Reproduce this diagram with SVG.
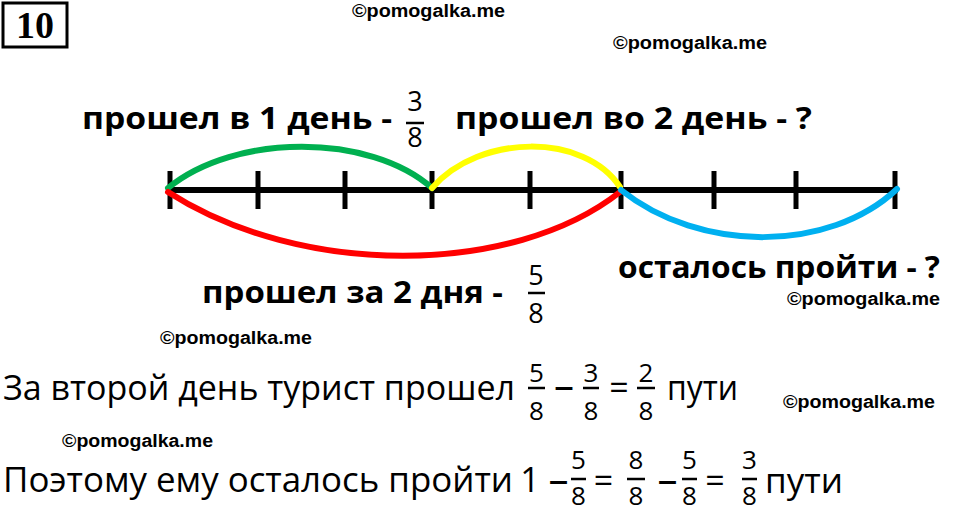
<svg xmlns="http://www.w3.org/2000/svg" width="960" height="516" viewBox="0 0 960 516">
<style>
.wm{font-family:"Liberation Sans",Arial,sans-serif;font-weight:bold;font-size:18px;fill:#000}
.lbl{font-family:"Open Sans","Noto Sans",sans-serif;font-weight:bold;font-size:30px;fill:#000}
.fr{font-family:"Open Sans","Noto Sans",sans-serif;font-size:27px;fill:#000;text-anchor:middle}
.fr2{font-family:"Open Sans","Noto Sans",sans-serif;font-size:26px;fill:#000;text-anchor:middle}
.main{font-family:"Open Sans","Noto Sans",sans-serif;font-size:34px;fill:#000}
.op{font-family:"Open Sans","Noto Sans",sans-serif;font-size:34px;fill:#000;text-anchor:middle}
.dash{font-family:"Open Sans","Noto Sans",sans-serif;font-size:40px;fill:#000;text-anchor:middle}
.bar{stroke:#000;stroke-width:2.5}
.tick{stroke:#000;stroke-width:5}
.arc{fill:none;stroke-width:6;stroke-linecap:round}
</style>
<rect width="960" height="516" fill="#fff"/>
<g id="number-box">
<rect x="3" y="3" width="64" height="44" fill="#fff" stroke="#000" stroke-width="3"/>
<text x="35" y="38" font-family="Liberation Serif,serif" font-weight="bold" font-size="38" text-anchor="middle">10</text>
</g>
<g id="watermarks">
<text class="wm" x="352" y="17" textLength="153" lengthAdjust="spacingAndGlyphs">©pomogalka.me</text>
<text class="wm" x="613" y="49" textLength="154" lengthAdjust="spacingAndGlyphs">©pomogalka.me</text>
<text class="wm" x="787" y="305" textLength="153" lengthAdjust="spacingAndGlyphs">©pomogalka.me</text>
<text class="wm" x="160" y="344" textLength="152" lengthAdjust="spacingAndGlyphs">©pomogalka.me</text>
<text class="wm" x="783" y="408" textLength="152" lengthAdjust="spacingAndGlyphs">©pomogalka.me</text>
<text class="wm" x="62" y="447" textLength="151" lengthAdjust="spacingAndGlyphs">©pomogalka.me</text>
</g>
<g id="number-line">
<line x1="166" y1="190" x2="898" y2="190" stroke="#000" stroke-width="6"/>
<line class="tick" x1="170" y1="171" x2="170" y2="209"/>
<line class="tick" x1="258" y1="171" x2="258" y2="209"/>
<line class="tick" x1="345" y1="171" x2="345" y2="209"/>
<line class="tick" x1="432" y1="171" x2="432" y2="209"/>
<line class="tick" x1="530" y1="171" x2="530" y2="209"/>
<line class="tick" x1="621" y1="171" x2="621" y2="209"/>
<line class="tick" x1="714" y1="171" x2="714" y2="209"/>
<line class="tick" x1="796" y1="171" x2="796" y2="209"/>
<line class="tick" x1="895" y1="171" x2="895" y2="209"/>
</g>
<g id="connectors">
<path class="arc" stroke="#00B050" d="M168,188 C235,133 370,133 432,188"/>
<path class="arc" stroke="#FFFF00" d="M432,188 C480,133 585,133 620,187"/>
<path class="arc" stroke="#FF0000" d="M168,192 C300,277 512,277 620,192"/>
<path class="arc" stroke="#00B0F0" d="M621,190 C700,253 829,253 897,189"/>
</g>
<g id="label-day1">
<text class="lbl" x="82" y="129" textLength="310" lengthAdjust="spacingAndGlyphs">прошел в 1 день -</text>
<text class="fr" x="415" y="111">3</text>
<line class="bar" x1="406" y1="123" x2="424" y2="123"/>
<text class="fr" x="415" y="147">8</text>
</g>
<g id="label-day2">
<text class="lbl" x="455" y="129" textLength="357" lengthAdjust="spacingAndGlyphs">прошел во 2 день - ?</text>
</g>
<g id="label-two-days">
<text class="lbl" x="202" y="303" textLength="301" lengthAdjust="spacingAndGlyphs">прошел за 2 дня -</text>
<text class="fr" x="536" y="285">5</text>
<line class="bar" x1="528" y1="293" x2="545" y2="293"/>
<text class="fr" x="536" y="323">8</text>
</g>
<g id="label-remaining">
<text class="lbl" x="618" y="278" textLength="322" lengthAdjust="spacingAndGlyphs">осталось пройти - ?</text>
</g>
<g id="equation-1">
<text class="main" x="3" y="400" textLength="512" lengthAdjust="spacingAndGlyphs">За второй день турист прошел</text>
<text class="fr2" x="536.5" y="382">5</text>
<line class="bar" x1="528" y1="388" x2="545" y2="388"/>
<text class="fr2" x="536.5" y="420">8</text>
<text class="dash" x="564" y="399">–</text>
<text class="fr2" x="591" y="382">3</text>
<line class="bar" x1="583" y1="388" x2="599" y2="388"/>
<text class="fr2" x="591" y="420">8</text>
<text class="op" x="619" y="400">=</text>
<text class="fr2" x="646" y="382">2</text>
<line class="bar" x1="637" y1="388" x2="655" y2="388"/>
<text class="fr2" x="646" y="420">8</text>
<text class="main" x="667" y="400" textLength="71" lengthAdjust="spacingAndGlyphs">пути</text>
</g>
<g id="equation-2">
<text class="main" x="3" y="492" textLength="510" lengthAdjust="spacingAndGlyphs">Поэтому ему осталось пройти</text>
<text class="op" x="530" y="492">1</text>
<text class="dash" x="558.5" y="493">–</text>
<text class="fr2" x="578.5" y="469">5</text>
<line class="bar" x1="571" y1="479" x2="586" y2="479"/>
<text class="fr2" x="578.5" y="505">8</text>
<text class="op" x="603.5" y="493">=</text>
<text class="fr2" x="636" y="469">8</text>
<line class="bar" x1="627" y1="479" x2="645" y2="479"/>
<text class="fr2" x="636" y="505">8</text>
<text class="dash" x="667.5" y="493">–</text>
<text class="fr2" x="689.5" y="469">5</text>
<line class="bar" x1="682" y1="479" x2="697" y2="479"/>
<text class="fr2" x="689.5" y="505">8</text>
<text class="op" x="715" y="493">=</text>
<text class="fr2" x="749.5" y="469">3</text>
<line class="bar" x1="742" y1="479" x2="757" y2="479"/>
<text class="fr2" x="749.5" y="505">8</text>
<text class="main" x="765" y="493" textLength="78" lengthAdjust="spacingAndGlyphs">пути</text>
</g>
</svg>
